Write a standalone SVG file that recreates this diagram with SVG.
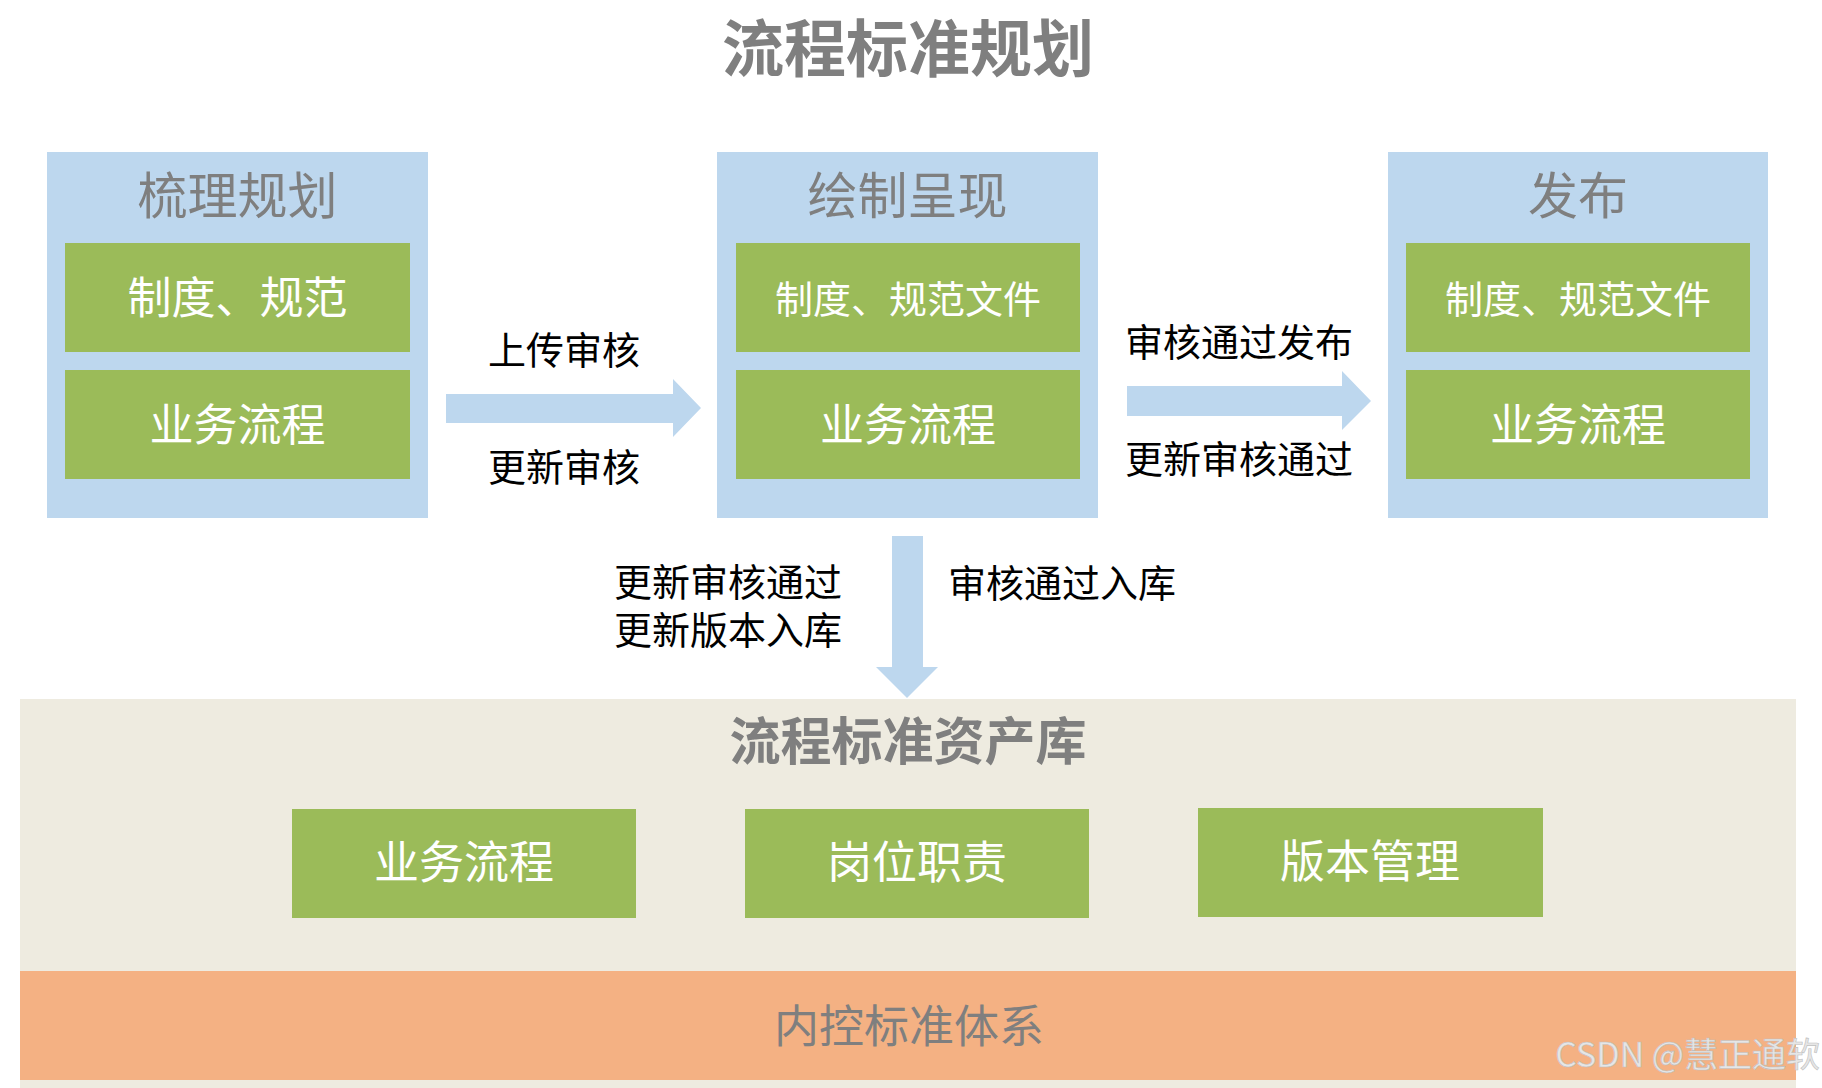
<svg xmlns="http://www.w3.org/2000/svg" width="1822" height="1088" viewBox="0 0 1822 1088">
<style>
text{font-family:"Noto Sans CJK SC","Microsoft YaHei",sans-serif;text-anchor:middle}
.panel{fill:#BDD7EE}
.green{fill:#9BBB59}
.ptitle{font-size:50px;fill:#7F7F7F}
.wt{fill:#FFFFFF}
.lbl{font-size:38px;fill:#000000}
.arrow{fill:#BDD7EE}
</style>
<rect x="0" y="0" width="1822" height="1088" fill="#FFFFFF"/>
<text x="908" y="72" style="font-size:62px;font-weight:bold;fill:#7F7F7F">流程标准规划</text>

<g id="node-shuli">
<rect class="panel" x="47" y="152" width="381" height="366"/>
<text class="ptitle" x="237.5" y="214">梳理规划</text>
<rect class="green" x="65" y="243" width="345" height="109"/>
<text class="wt" x="237.5" y="314" style="font-size:44px">制度、规范</text>
<rect class="green" x="65" y="370" width="345" height="109"/>
<text class="wt" x="237.5" y="441" style="font-size:44px">业务流程</text>
</g>

<g id="node-huizhi">
<rect class="panel" x="717" y="152" width="381" height="366"/>
<text class="ptitle" x="907.5" y="214">绘制呈现</text>
<rect class="green" x="736" y="243" width="344" height="109"/>
<text class="wt" x="908" y="313" style="font-size:38px">制度、规范文件</text>
<rect class="green" x="736" y="370" width="344" height="109"/>
<text class="wt" x="908" y="441" style="font-size:44px">业务流程</text>
</g>

<g id="node-fabu">
<rect class="panel" x="1388" y="152" width="380" height="366"/>
<text class="ptitle" x="1578" y="214">发布</text>
<rect class="green" x="1406" y="243" width="344" height="109"/>
<text class="wt" x="1578" y="313" style="font-size:38px">制度、规范文件</text>
<rect class="green" x="1406" y="370" width="344" height="109"/>
<text class="wt" x="1578" y="441" style="font-size:44px">业务流程</text>
</g>

<g id="connectors">
<polygon class="arrow" points="446,394 673,394 673,379 701,408 673,437 673,423 446,423"/>
<polygon class="arrow" points="1127,386 1342,386 1342,371 1371,401 1342,430 1342,416 1127,416"/>
<polygon class="arrow" points="892,536 923,536 923,667 938,667 907,698 876,667 892,667"/>
<text class="lbl" x="564" y="364">上传审核</text>
<text class="lbl" x="564" y="481">更新审核</text>
<text class="lbl" x="1239" y="356">审核通过发布</text>
<text class="lbl" x="1239" y="473">更新审核通过</text>
<text class="lbl" x="728" y="596">更新审核通过<tspan x="728" dy="48">更新版本入库</tspan></text>
<text class="lbl" x="1062" y="597">审核通过入库</text>
</g>

<g id="node-ziku">
<rect x="20" y="699" width="1776" height="389" fill="#EEEBE0"/>
<text x="908" y="760" style="font-size:51px;font-weight:bold;fill:#7F7F7F">流程标准资产库</text>
</g>

<g id="node-ywlc">
<rect class="green" x="292" y="809" width="344" height="109"/>
<text class="wt" x="464" y="879" style="font-size:45px">业务流程</text>
</g>
<g id="node-gwzz">
<rect class="green" x="745" y="809" width="344" height="109"/>
<text class="wt" x="917" y="879" style="font-size:45px">岗位职责</text>
</g>
<g id="node-bbgl">
<rect class="green" x="1198" y="808" width="345" height="109"/>
<text class="wt" x="1370" y="878" style="font-size:45px">版本管理</text>
</g>

<g id="node-neikong">
<rect x="20" y="971" width="1776" height="109" fill="#F4B183"/>
<text x="909" y="1043" style="font-size:45px;fill:#7F7F7F">内控标准体系</text>
</g>

<text x="1820" y="1067" style="font-size:34px;fill:#E6E6E6;text-anchor:end;stroke:#BFBFBF;stroke-width:0.6">CSDN @慧正通软</text>
</svg>
